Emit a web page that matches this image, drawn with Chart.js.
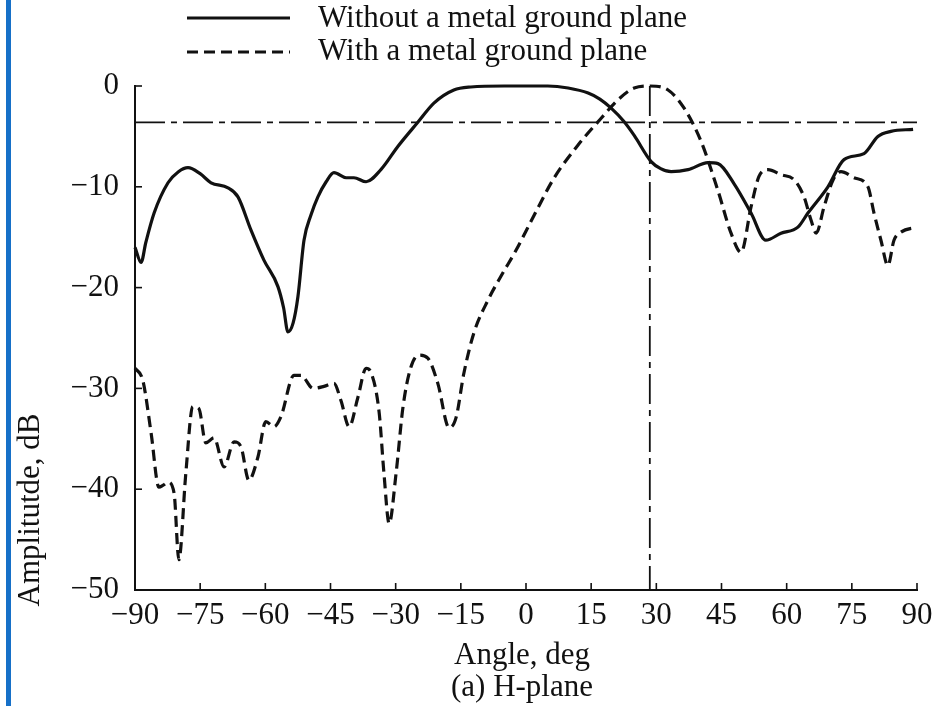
<!DOCTYPE html>
<html>
<head>
<meta charset="utf-8">
<script src="https://cdn.jsdelivr.net/npm/chart.js@4.4.1/dist/chart.umd.min.js"></script>
<style>
html,body{margin:0;padding:0;background:#fff;}
#wrap{width:947px;height:706px;position:relative;}
</style>
</head>
<body>
<div id="wrap"><canvas id="c" width="947" height="706"></canvas></div>
<script>
// ---- data ----
const seriesNames = ['Without a metal ground plane', 'With a metal ground plane'];
const xTitle = ['Angle, deg', '(a) H-plane'];
const yTitle = 'Amplitutde, dB';

const solidAngles = [-90,-88.6,-87.5,-85.6,-82.4,-80,-77.8,-75,-72.5,-68.6,-66.3,-63.3,-60.3,-57.1,-55.8,-54.8,-53.6,-52.5,-51.1,-49.5,-47.9,-46,-44.2,-41.4,-39.6,-36.8,-33.4,-29.5,-24.9,-21.2,-16.6,-12.7,-5,0,5,9.7,14.3,17,19.6,22.5,24.9,28.8,31,33.4,37.3,41.9,44.2,47.9,51.8,55.2,58.7,62.6,64.9,69.5,73.2,77.8,81,84,89.1];
const solidDb = [-16.0,-17.5,-15.5,-12.6,-9.6,-8.5,-8.1,-8.7,-9.6,-10.1,-11.0,-14.3,-17.3,-19.9,-22,-24.4,-23.5,-20.9,-15.3,-12.8,-11.0,-9.5,-8.6,-9.1,-9.1,-9.5,-8.3,-6.0,-3.6,-1.7,-0.4,-0.1,0,0,0,-0.2,-0.7,-1.3,-2.2,-3.5,-4.9,-7.5,-8.2,-8.5,-8.3,-7.6,-7.7,-9.7,-12.6,-15.3,-14.6,-14.0,-12.6,-10.0,-7.3,-6.7,-5.0,-4.5,-4.3];

const dashedAngles = [-90,-88.2,-86.3,-84.5,-83.5,-82.4,-81,-79.9,-78.3,-76.7,-75.3,-73.7,-71.8,-69.5,-67.2,-65.6,-63.8,-61.7,-59.9,-58,-56.4,-53.4,-51.8,-49,-46.5,-44.2,-42.6,-40.7,-38.7,-36.8,-35.7,-33.8,-32.7,-31.5,-29.9,-28.3,-26.5,-24.6,-22.6,-20.3,-17.7,-16.1,-14.3,-12,-8.7,-5.8,-2.3,1.9,6.5,11.9,17.3,21.1,24.9,28.5,32.7,36.4,40.3,44.2,47.2,49.5,51.8,53.6,55.7,58.7,61.7,64,65.6,66.8,68.6,70.7,72.5,75.5,78.7,80.1,81.7,83.3,84.7,86.3,90];
const dashedDb = [-28.0,-29.2,-34.4,-39.8,-39.6,-39.3,-40.4,-47.0,-38.4,-31.8,-32.0,-35.4,-34.9,-37.8,-35.3,-35.8,-39.1,-36.8,-33.3,-33.8,-32.8,-28.7,-28.7,-30.0,-29.8,-29.5,-31.2,-33.8,-30.9,-28.0,-28.4,-32.4,-38.4,-43.4,-38.4,-31.8,-27.9,-26.7,-27.0,-29.5,-33.9,-32.9,-28.5,-24.5,-21.2,-18.9,-16.3,-12.8,-9.1,-5.9,-3.2,-1.4,-0.2,0,-0.4,-2.2,-5.5,-10.4,-14.6,-16.5,-12.0,-9.0,-8.3,-8.8,-9.3,-11.0,-13.3,-14.6,-12.0,-9.3,-8.5,-9.1,-10.0,-12.6,-15.3,-17.8,-15.3,-14.5,-14.0];

const refLevelDb = -3.6;   // horizontal dash-dot line
const refAngle = 28.5;     // vertical dash-dot line
const xTicks = [-90,-75,-60,-45,-30,-15,0,15,30,45,60,75,90];
const yTicks = [0,-10,-20,-30,-40,-50];

// ---- build ----
const toPts = (xs, ys) => xs.map((x, i) => ({x: x, y: ys[i]}));
const FONT = "'Liberation Serif', 'DejaVu Serif', serif";
const FSIZE = 31;
const INK = '#111';
const DASH = [11, 6];
const fmt = v => String(v).replace('-', '\u2212');

const decor = {
  id: 'decor',
  beforeDraw(chart) {
    const ctx = chart.ctx;
    ctx.save();
    ctx.fillStyle = '#fff';
    ctx.fillRect(0, 0, chart.width, chart.height);
    ctx.fillStyle = '#1670c8';
    ctx.fillRect(6, 0, 5, chart.height);
    ctx.restore();
  },
  afterDraw(chart) {
    const ctx = chart.ctx;
    const xs = chart.scales.x, ys = chart.scales.y;
    ctx.save();
    // inward tick marks
    ctx.strokeStyle = INK; ctx.lineWidth = 1.6;
    xTicks.forEach(v => {
      const px = xs.getPixelForValue(v);
      ctx.beginPath(); ctx.moveTo(px, ys.bottom); ctx.lineTo(px, ys.bottom - 7); ctx.stroke();
    });
    yTicks.forEach(v => {
      const py = ys.getPixelForValue(v);
      ctx.beginPath(); ctx.moveTo(xs.left, py); ctx.lineTo(xs.left + 7, py); ctx.stroke();
    });
    // legend
    ctx.lineWidth = 3.2;
    ctx.beginPath(); ctx.setLineDash([]); ctx.moveTo(187, 18); ctx.lineTo(290, 18); ctx.stroke();
    ctx.beginPath(); ctx.setLineDash(DASH); ctx.moveTo(187, 52); ctx.lineTo(290, 52); ctx.stroke();
    ctx.setLineDash([]);
    ctx.fillStyle = INK;
    ctx.font = FSIZE + "px " + FONT;
    ctx.textAlign = 'left'; ctx.textBaseline = 'middle';
    ctx.fillText(seriesNames[0], 318, 19);
    ctx.fillText(seriesNames[1], 318, 52);
    // axis titles
    ctx.textAlign = 'center';
    const cx = (xs.left + xs.right) / 2 - 4;
    ctx.fillText(xTitle[0], cx, 656);
    ctx.fillText(xTitle[1], cx, 688);
    ctx.translate(31, 510);
    ctx.rotate(-Math.PI / 2);
    ctx.fillText(yTitle, 0, 0);
    ctx.restore();
  }
};

new Chart(document.getElementById('c'), {
  type: 'line',
  data: {
    datasets: [
      { label: seriesNames[0], data: toPts(solidAngles, solidDb), borderColor: INK, borderWidth: 3.2,
        pointRadius: 0, cubicInterpolationMode: 'monotone', fill: false, clip: false },
      { label: seriesNames[1], data: toPts(dashedAngles, dashedDb), borderColor: INK, borderWidth: 3.2,
        borderDash: DASH, pointRadius: 0, cubicInterpolationMode: 'monotone', fill: false, clip: false },
      { label: 'ref-h', data: [{x: -90, y: refLevelDb}, {x: 90, y: refLevelDb}], borderColor: INK,
        borderWidth: 1.8, borderDash: [30, 6, 6, 6], pointRadius: 0, tension: 0, clip: false },
      { label: 'ref-v', data: [{x: refAngle, y: 0}, {x: refAngle, y: -50}], borderColor: INK,
        borderWidth: 1.8, borderDash: [30, 6, 6, 6], pointRadius: 0, tension: 0, clip: false }
    ]
  },
  options: {
    responsive: false,
    animation: false,
    layout: { padding: { top: 86, right: 30, left: 0, bottom: 0 } },
    plugins: { legend: { display: false }, tooltip: { enabled: false }, title: { display: false } },
    scales: {
      x: {
        type: 'linear', min: -90, max: 90,
        afterFit: s => { s.height = 116; },
        afterBuildTicks: s => { s.ticks = xTicks.map(v => ({value: v})); },
        grid: { display: false, drawTicks: false },
        border: { display: true, color: INK, width: 2 },
        ticks: { color: INK, font: { family: FONT, size: FSIZE }, padding: 7, maxRotation: 0, autoSkip: false,
                 callback: v => fmt(v) }
      },
      y: {
        min: -50, max: 0,
        afterFit: s => { s.width = 135; },
        afterBuildTicks: s => { s.ticks = yTicks.map(v => ({value: v})); },
        grid: { display: false, drawTicks: false },
        border: { display: true, color: INK, width: 2 },
        ticks: { color: INK, font: { family: FONT, size: FSIZE }, padding: 16, autoSkip: false,
                 callback: v => fmt(v) }
      }
    }
  },
  plugins: [decor]
});
</script>
</body>
</html>
